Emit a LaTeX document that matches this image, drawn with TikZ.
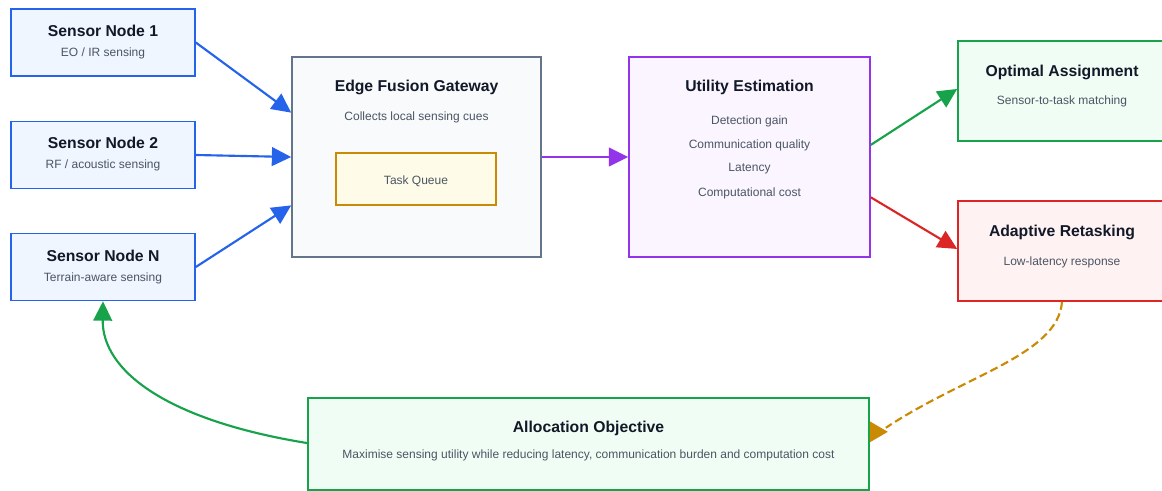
\documentclass[tikz,border=0pt]{standalone}
\usepackage{fontspec}
\setmainfont{Liberation Sans}
\usetikzlibrary{arrows.meta,calc}
\definecolor{cblue}{HTML}{2563EB}
\definecolor{fblue}{HTML}{EFF6FF}
\definecolor{cslate}{HTML}{64748B}
\definecolor{fslate}{HTML}{F8FAFC}
\definecolor{cgold}{HTML}{CA8A04}
\definecolor{fgold}{HTML}{FEFCE8}
\definecolor{cpurp}{HTML}{9333EA}
\definecolor{fpurp}{HTML}{FAF5FF}
\definecolor{cgreen}{HTML}{16A34A}
\definecolor{fgreen}{HTML}{F0FDF4}
\definecolor{cred}{HTML}{DC2626}
\definecolor{fred}{HTML}{FEF2F2}
\definecolor{ctitle}{HTML}{111827}
\definecolor{csub}{HTML}{4B5563}
\tikzset{
  boxbase/.style={draw, line width=1.2pt, inner sep=0pt},
  sensorbox/.style={boxbase, draw=cblue, fill=fblue, minimum width=138pt, minimum height=50.25pt},
  titletext/.style={font=\bfseries\fontsize{11.8}{14}\selectfont, text=ctitle, inner sep=0pt},
  subtext/.style={font=\fontsize{9}{11}\selectfont, text=csub, inner sep=0pt},
  conn/.style={line width=1.6pt, -{Triangle[length=14.5pt,width=14pt]}},
  plainconn/.style={line width=1.6pt},
}
\begin{document}
\begin{tikzpicture}[x=0.75pt,y=-0.75pt]
\useasboundingbox (0,0) rectangle (1162,491);
\fill[white] (0,0) rectangle (1162,491);
% sensors
\node[sensorbox] (s1) at (103,42.5) {};
\node[titletext] (s1t) at (103,31) {Sensor Node 1};
\node[subtext] (s1s) at (103,53) {EO / IR sensing};
\node[sensorbox] (s2) at (103,155) {};
\node[titletext] (s2t) at (103,143) {Sensor Node 2};
\node[subtext] (s2s) at (103,165) {RF / acoustic sensing};
\node[sensorbox] (sn) at (103,267) {};
\node[titletext] (snt) at (103,256) {Sensor Node N};
\node[subtext] (sns) at (103,278) {Terrain-aware sensing};
% gateway
\node[boxbase, draw=cslate, fill=fslate, minimum width=186.75pt, minimum height=150pt] (gw) at (416.5,157) {};
\node[titletext] (gwt) at (416.5,87) {Edge Fusion Gateway};
\node[subtext] (gws) at (416.5,117) {Collects local sensing cues};
\node[boxbase, draw=cgold, fill=fgold, minimum width=120pt, minimum height=39pt] (tq) at (416,179) {};
\node[subtext] (tqt) at (416,181) {Task Queue};
% utility
\node[boxbase, draw=cpurp, fill=fpurp, minimum width=180.75pt, minimum height=150pt] (ut) at (749.5,157) {};
\node[titletext] (utt) at (749.5,87) {Utility Estimation};
\node[subtext] (ut1) at (749.5,121) {Detection gain};
\node[subtext] (ut2) at (749.5,145) {Communication quality};
\node[subtext] (ut3) at (749.5,169) {Latency};
\node[subtext] (ut4) at (749.5,193) {Computational cost};
% optimal
\node[boxbase, draw=cgreen, fill=fgreen, minimum width=156pt, minimum height=75pt] (op) at (1062,91) {};
\node[titletext] (opt) at (1062,72) {Optimal Assignment};
\node[subtext] (ops) at (1062,101) {Sensor-to-task matching};
% adaptive
\node[boxbase, draw=cred, fill=fred, minimum width=156pt, minimum height=75pt] (ad) at (1062,251) {};
\node[titletext] (adt) at (1062,232) {Adaptive Retasking};
\node[subtext] (ads) at (1062,262) {Low-latency response};
% allocation
\node[boxbase, draw=cgreen, fill=fgreen, minimum width=420.75pt, minimum height=69pt] (al) at (588.5,444) {};
\node[titletext] (alt) at (588.5,428) {Allocation Objective};
\node[subtext] (als) at (588.5,455) {Maximise sensing utility while reducing latency, communication burden and computation cost};
% connectors
\draw[conn, cblue] (s1.east) -- ($(gw.north west)!0.28!(gw.south west)$);
\draw[conn, cblue] (s2.east) -- (gw.west);
\draw[conn, cblue] (sn.east) -- ($(gw.north west)!0.74!(gw.south west)$);
\draw[conn, cpurp] (gw.east) -- (ut.west);
\draw[conn, cgreen] ($(ut.north east)!0.44!(ut.south east)$) -- ($(op.north west)!0.48!(op.south west)$);
\draw[conn, cred] ($(ut.north east)!0.70!(ut.south east)$) -- ($(ad.north west)!0.48!(ad.south west)$);
% dashed feedback with outward-pointing head at the allocation box
\coordinate (goldbase) at ($(al.north east)!0.37!(al.south east)$);
\coordinate (goldtip) at ($(goldbase)+(18,0)$);
\draw[plainconn, cgold, dash pattern=on 6pt off 3pt] (ad.south) .. controls (1058,355) and (965,375) .. ($(goldtip)+(-2,-4)$);
\fill[cgold] ($(goldbase)+(0,-10.5)$) -- (goldtip) -- ($(goldbase)+(0,10.5)$) -- cycle;
\draw[conn, cgreen] ($(al.north west)!0.49!(al.south west)$) .. controls (165,420) and (102,370) .. (sn.south);
\end{tikzpicture}
\end{document}
